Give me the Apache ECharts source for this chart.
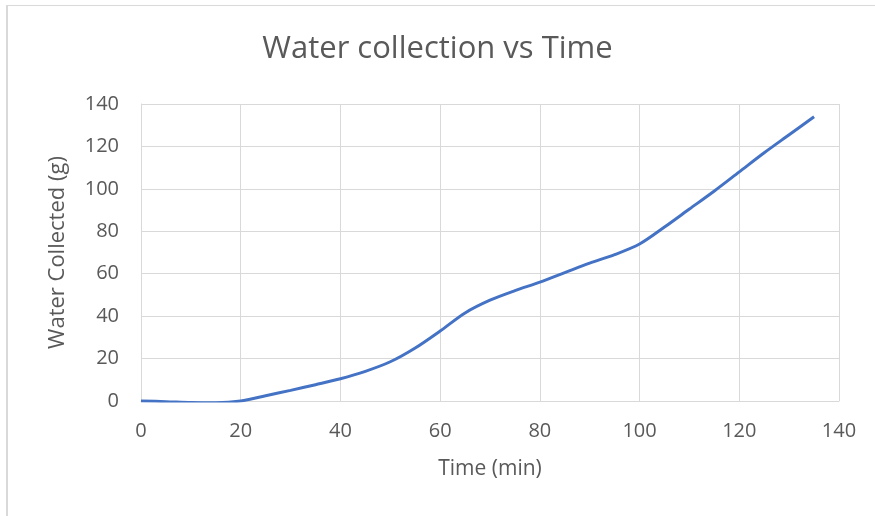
<!DOCTYPE html>
<html>
<head>
<meta charset="utf-8">
<script src="https://cdn.jsdelivr.net/npm/echarts@6/dist/echarts.min.js"></script>
<style>
  html, body { margin: 0; padding: 0; background: #fff; }
  .frame {
    position: absolute;
    left: 6px;
    top: 5px;
    width: 900px;
    height: 600px;
    border-top: 1px solid #d9d9d9;
    border-left: 2px solid #d9d9d9;
  }
  #chart { position: absolute; left: 0; top: 0; width: 875px; height: 516px; }
</style>
</head>
<body>
<div class="frame"></div>
<div id="chart"></div>
<script>
// time in minutes
const times = [0, 5, 10, 15, 20, 25, 30, 35, 40, 45, 50, 55, 60, 65,
  70, 75, 80, 85, 90, 95, 100, 105, 110, 115, 120, 125, 130, 135]
// water collected in grams
const water = [0, -0.3, -0.7, -0.8, 0, 2.5, 5, 7.7, 10.5, 14, 18.5, 25, 33, 41.5,
  47.5, 52, 56, 60.5, 65, 69, 74, 82, 90.5, 99, 108, 117, 125.5, 134]

const textColor = '#595959'
const gridColor = '#d9d9d9'
const font = 'Open Sans, Noto Sans, sans-serif'

const chart = echarts.init(document.getElementById('chart'))
chart.setOption({
  animation: false,
  title: {
    text: 'Water collection vs Time',
    left: 'center',
    top: 29,
    textStyle: { color: textColor, fontSize: 31, fontWeight: 'normal', fontFamily: font },
  },
  grid: { left: 141, right: 36, top: 104, bottom: 115 },
  xAxis: {
    type: 'value',
    min: 0,
    max: 140,
    interval: 20,
    name: 'Time (min)',
    nameLocation: 'middle',
    nameGap: 58,
    nameTextStyle: { color: textColor, fontSize: 21, fontFamily: font },
    axisLine: { lineStyle: { color: gridColor } },
    axisTick: { show: false },
    axisLabel: { color: textColor, fontSize: 20, margin: 20, fontFamily: font },
    splitLine: { lineStyle: { color: gridColor, width: 1 } },
  },
  yAxis: {
    type: 'value',
    min: 0,
    max: 140,
    interval: 20,
    name: 'Water Collected (g)',
    nameLocation: 'middle',
    nameGap: 72,
    nameTextStyle: { color: textColor, fontSize: 22, fontFamily: font },
    axisLine: { show: true, lineStyle: { color: gridColor } },
    axisTick: { show: false },
    axisLabel: { color: textColor, fontSize: 20, margin: 22, fontFamily: font },
    splitLine: { lineStyle: { color: gridColor, width: 1 } },
  },
  series: [
    {
      type: 'line',
      data: times.map((t, i) => [t, water[i]]),
      smooth: 0.3,
      showSymbol: false,
      lineStyle: { color: '#4472c4', width: 3 },
    },
  ],
})
</script>
</body>
</html>
